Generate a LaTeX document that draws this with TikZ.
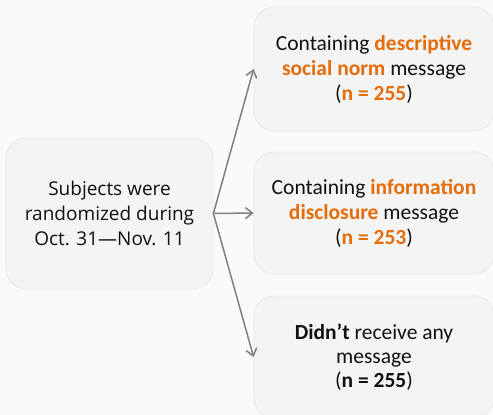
\documentclass[tikz,border=0pt]{standalone}
\usepackage{fontspec}
\setmainfont{Carlito}
\newfontfamily\leftfont{Open Sans}
\usetikzlibrary{arrows.meta}
\definecolor{bgc}{HTML}{FAFAFA}
\definecolor{boxc}{HTML}{F4F4F4}
\definecolor{boxline}{HTML}{E8E8E8}
\definecolor{orng}{HTML}{E46C0A}
\definecolor{txt}{HTML}{111111}
\definecolor{arr}{HTML}{808080}
\tikzset{
  box/.style={draw=boxline, line width=0.8pt, fill=boxc, rounded corners=20pt, align=center, text=txt, inner sep=0pt},
  conn/.style={draw=arr, line width=1.5pt, -{Straight Barb[length=7pt,width=11pt,line width=1.5pt]}},
}
\newcommand{\hl}[1]{\textcolor{orng}{\textbf{#1}}}
\begin{document}
\begin{tikzpicture}[x=1pt,y=-1pt]
\useasboundingbox[fill=bgc] (0,0) rectangle (493,415);
\node[box, minimum width=207pt, minimum height=151pt, font=\leftfont\fontsize{19}{25}\selectfont] (src) at (109.5,213.5) {Subjects were\\randomized during\\Oct. 31—Nov. 11};
\node[box, minimum width=240pt, minimum height=124pt, font=\fontsize{21.5}{25}\selectfont] (a) at (374,69) {Containing \hl{descriptive}\\\hl{social norm} message\\(\hl{n = 255})};
\node[box, minimum width=240pt, minimum height=122pt, font=\fontsize{21.5}{25}\selectfont] (b) at (374,213) {Containing \hl{information}\\\hl{disclosure} message\\(\hl{n = 253})};
\node[box, minimum width=240pt, minimum height=122pt, font=\fontsize{21.5}{24}\selectfont] (c) at (374,357) {\textbf{Didn’t} receive any\\message\\(\textbf{n = 255})};
\draw[conn] (src.east) -- (a.west);
\draw[conn] (src.east) -- (b.west);
\draw[conn] (src.east) -- (c.west);
\end{tikzpicture}
\end{document}
